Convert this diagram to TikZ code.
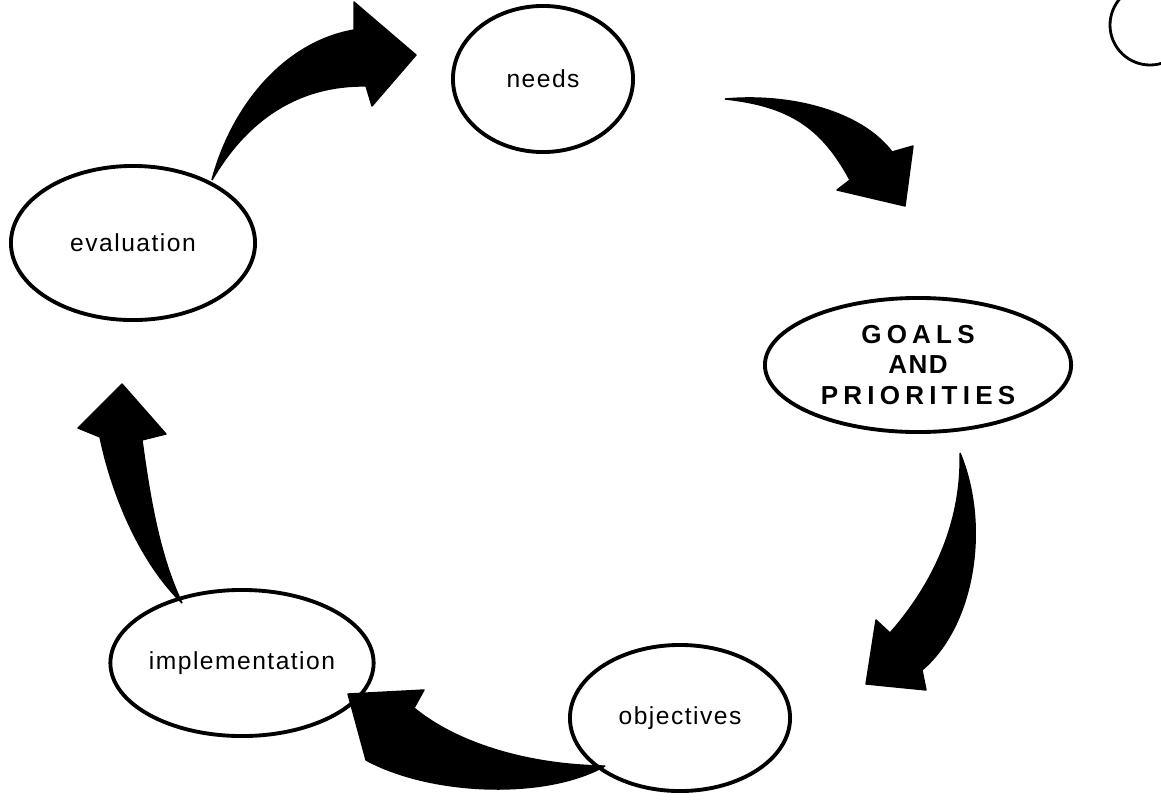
\documentclass[tikz,border=0pt]{standalone}
\usepackage{fontspec}
\usetikzlibrary{shapes.geometric}
\newfontfamily\lblfont[LetterSpace=6]{Liberation Sans}
\newfontfamily\capsfont[LetterSpace=20]{Liberation Sans}
\begin{document}
\begin{tikzpicture}[x=0.01cm, y=-0.01cm]
	\tikzstyle{stage} = [ellipse, draw, line width=1.1pt, inner sep=0pt, align=center, font=\lblfont\fontsize{7}{9}\selectfont]
	\tikzstyle{fatarrow} = [fill=black, draw=black, line width=0.4pt, line join=round]
	\fill[white] (0,0) rectangle (1161,803);
	\useasboundingbox (0,0) rectangle (1161,803);
	
	% Define nodes with elliptical style
	\node[stage, minimum width=1.8cm, minimum height=1.46cm] (N) at (543,79) {needs};
	\node[stage, minimum width=3.06cm, minimum height=1.34cm, font=\fontsize{7.4}{8.6}\selectfont] (G) at (918,365) {{\capsfont\bfseries GOALS}\\{\lblfont\bfseries AND}\\{\capsfont\bfseries PRIORITIES}};
	\node[stage, minimum width=2.2cm, minimum height=1.46cm] (O) at (680,718) {objectives};
	\node[stage, minimum width=2.44cm, minimum height=1.46cm] (I) at (242,663) {implementation};
	\node[stage, minimum width=2.44cm, minimum height=1.54cm] (E) at (133,243) {evaluation};
	
	% Ends of the curved arrows
	\coordinate (E-tail) at (212,180);
	\coordinate (N-tip) at (416,55);
	\coordinate (N-tail) at (725,99);
	\coordinate (G-tip) at (905,206);
	\coordinate (G-tail) at (960,453);
	\coordinate (O-tip) at (866,684);
	\coordinate (O-tail) at (605,766);
	\coordinate (I-tip) at (348,694);
	\coordinate (I-tail) at (182,603);
	\coordinate (E-tip) at (122,384);
	
	% Draw thick curved arrows between the stages
	\filldraw[fatarrow] (E-tail) .. controls (232,105) and (285,42) .. (354,30) -- (354,2) -- (N-tip) -- (372,106) -- (366,86) .. controls (300,85) and (248,118) .. (E-tail);
	\filldraw[fatarrow] (N-tail) .. controls (792,93) and (862,112) .. (892,152) -- (913,146) -- (G-tip) -- (837,190) -- (850,180) .. controls (822,128) and (790,106) .. (N-tail);
	\filldraw[fatarrow] (G-tail) .. controls (990,525) and (975,625) .. (922,670) -- (926,690) -- (O-tip) -- (876,620) -- (890,633) .. controls (935,582) and (962,520) .. (G-tail);
	\filldraw[fatarrow] (O-tail) .. controls (545,800) and (430,795) .. (366,760) -- (I-tip) -- (424,690) -- (414,708) .. controls (455,742) and (525,765) .. (O-tail);
	\filldraw[fatarrow] (I-tail) .. controls (140,562) and (112,495) .. (100,437) -- (78,428) -- (E-tip) -- (166,434) -- (142,440) .. controls (150,500) and (160,557) .. (I-tail);
	
	% Mark in the corner
	\draw[line width=0.8pt] (1150,25) ++(235:40) arc[start angle=235, end angle=-10, radius=40];
	
\end{tikzpicture}
\end{document}
